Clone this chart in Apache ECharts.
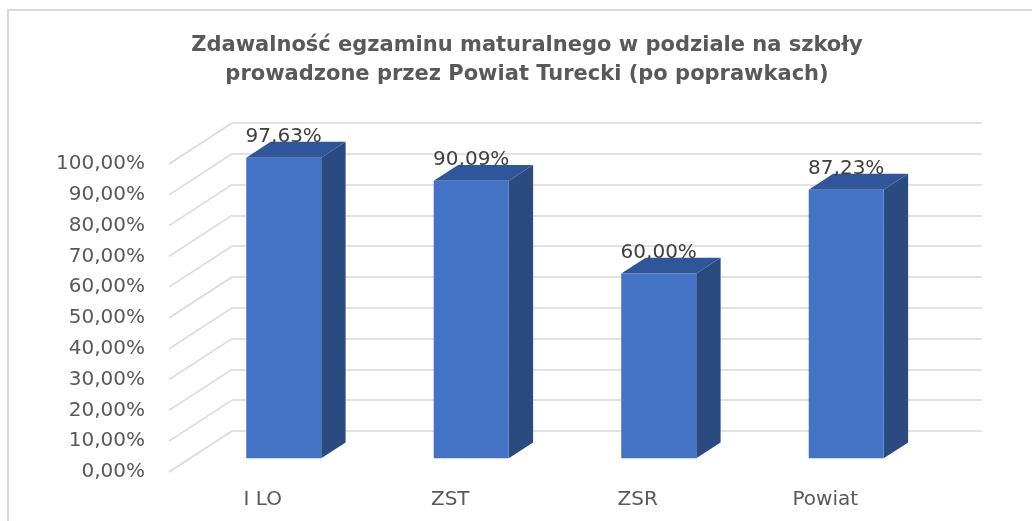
<!DOCTYPE html>
<html lang="pl">
<head>
  <meta charset="UTF-8" />
  <title>Zdawalność egzaminu maturalnego</title>
  <script src="https://cdn.jsdelivr.net/npm/echarts@6.0.0/dist/echarts.min.js"></script>
  <style>
    html, body { margin: 0; padding: 0; background: #fff; }
    #chart { width: 1032px; height: 521px; }
  </style>
</head>
<body>
  <div id="chart"></div>
  <script>
    // dane
    const categories = ['I LO', 'ZST', 'ZSR', 'Powiat'];
    const passRates = [97.63, 90.09, 60.00, 87.23];
    const yTicks = [0, 10, 20, 30, 40, 50, 60, 70, 80, 90, 100];

    // wektor głębi (pseudo 3D w stylu Excela)
    const DEPTH = [63, -41];
    const BAR_FRONT = 0.333;
    const BAR_BACK = 0.72;
    const GRID_COLOR = '#d9d9d9';
    const LABEL_FONT = 'DejaVu Sans';

    const fmt = v => v.toFixed(2).replace('.', ',') + '%';

    const chart = echarts.init(document.getElementById('chart'));

    const option = {
      animation: false,
      backgroundColor: '#fff',
      title: {
        text: 'Zdawalność egzaminu maturalnego w podziale na szkoły\nprowadzone przez Powiat Turecki (po poprawkach)',
        left: 522,
        top: 26,
        textAlign: 'center',
        textStyle: {
          fontFamily: 'DejaVu Sans',
          fontSize: 21,
          fontWeight: 'bold',
          color: '#595959',
          lineHeight: 29
        }
      },
      graphic: [{
        // ramka obszaru wykresu (widoczna tylko góra i lewa strona)
        type: 'polyline',
        shape: { points: [[8, 530], [8, 10], [1040, 10]] },
        style: { fill: 'none', stroke: GRID_COLOR, lineWidth: 2 },
        silent: true
      }],
      grid: [
        { left: 169, top: 164, width: 750, height: 308 },
        { left: 169 + DEPTH[0], top: 164 + DEPTH[1], width: 750, height: 308 }
      ],
      xAxis: [{
        type: 'category',
        gridIndex: 0,
        data: categories,
        axisLine: { show: false },
        axisTick: { show: false },
        axisLabel: { color: '#595959', fontSize: 20, fontFamily: LABEL_FONT, margin: 18 }
      }, {
        type: 'category',
        gridIndex: 1,
        data: categories,
        show: false
      }],
      yAxis: [{
        type: 'value',
        gridIndex: 0,
        min: 0, max: 100, interval: 10,
        axisLine: { show: false },
        axisTick: { show: false },
        splitLine: { show: false },
        axisLabel: { color: '#595959', fontSize: 20, fontFamily: LABEL_FONT, margin: 24, formatter: fmt }
      }, {
        type: 'value',
        gridIndex: 1,
        min: 0, max: 100, interval: 10,
        axisLine: { show: false },
        axisTick: { show: false },
        axisLabel: { show: false },
        splitLine: { lineStyle: { color: GRID_COLOR, width: 1.5 } }
      }],
      series: [{
        // skośne linie siatki na lewej ścianie
        type: 'custom',
        xAxisIndex: 0, yAxisIndex: 0,
        silent: true,
        z: 1,
        data: yTicks.map(v => [0, v]),
        encode: { x: 0, y: 1 },
        renderItem: function (params, api) {
          const p = api.coord([0, api.value(1)]);
          const x = params.coordSys.x;
          return {
            type: 'line',
            shape: { x1: x, y1: p[1], x2: x + DEPTH[0], y2: p[1] + DEPTH[1] },
            style: { stroke: GRID_COLOR, lineWidth: 1.5 }
          };
        }
      }, {
        // słupki 3D
        type: 'custom',
        xAxisIndex: 0, yAxisIndex: 0,
        z: 3,
        data: passRates.map((v, i) => [i, v]),
        encode: { x: 0, y: 1 },
        renderItem: function (params, api) {
          const i = api.value(0);
          const v = api.value(1);
          const base = api.coord([i, 0]);
          const top = api.coord([i, v]);
          const w = api.size([1, 0])[0] * 0.4;
          const fx = DEPTH[0] * BAR_FRONT, fy = DEPTH[1] * BAR_FRONT;
          const dx = DEPTH[0] * (BAR_BACK - BAR_FRONT), dy = DEPTH[1] * (BAR_BACK - BAR_FRONT);
          const x0 = base[0] - w / 2 + fx, x1 = x0 + w;
          const yb = base[1] + fy, yt = top[1] + fy;
          return {
            type: 'group',
            children: [{
              type: 'polygon',
              shape: { points: [[x1, yb], [x1 + dx, yb + dy], [x1 + dx, yt + dy], [x1, yt]] },
              style: { fill: '#2B4A80' }
            }, {
              type: 'polygon',
              shape: { points: [[x0, yt], [x1, yt], [x1 + dx, yt + dy], [x0 + dx, yt + dy]] },
              style: { fill: '#30569A' }
            }, {
              type: 'rect',
              shape: { x: x0, y: yt, width: w, height: yb - yt },
              style: { fill: '#4472C4' }
            }, {
              type: 'text',
              x: (x0 + x1) / 2,
              y: yt + dy - 5,
              style: {
                text: fmt(v),
                align: 'center',
                verticalAlign: 'middle',
                fill: '#404040',
                fontSize: 20,
                fontFamily: LABEL_FONT
              }
            }]
          };
        }
      }]
    };

    chart.setOption(option);
  </script>
</body>
</html>
